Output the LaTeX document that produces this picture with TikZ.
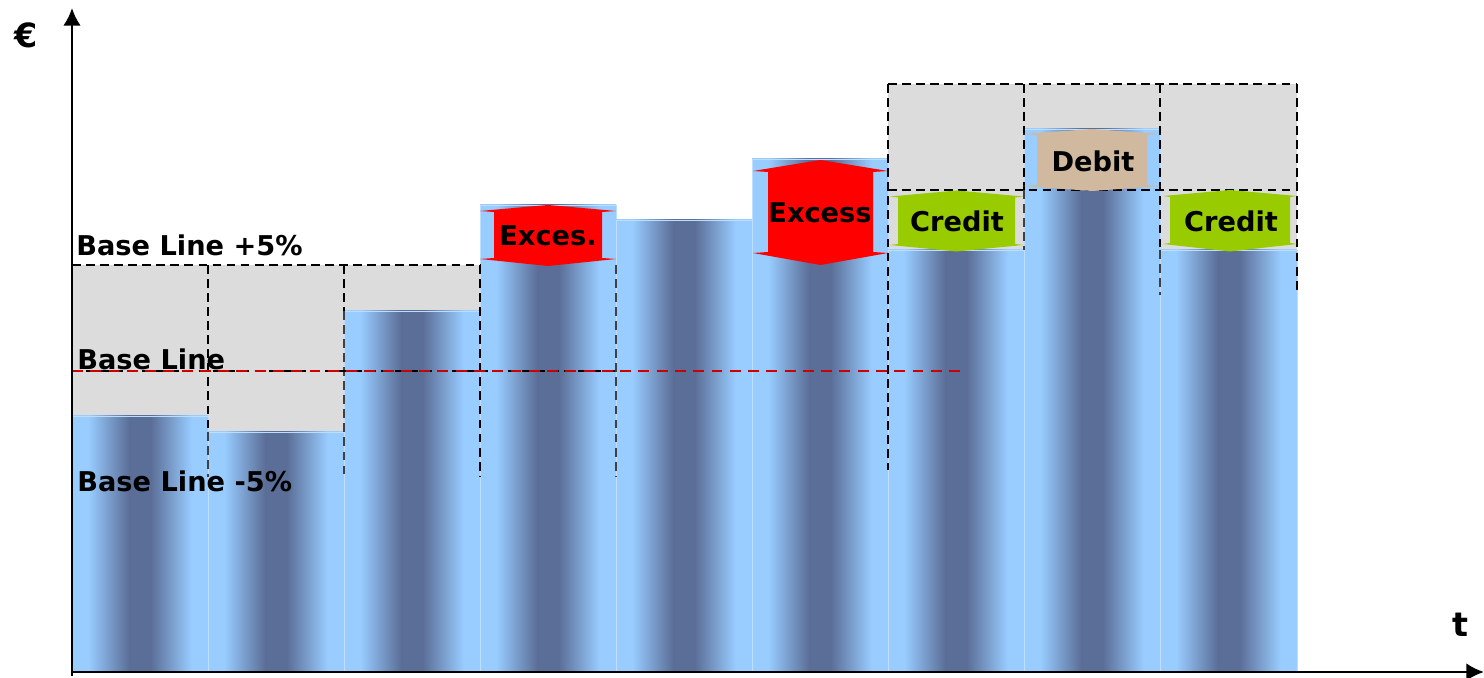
\documentclass[tikz,border=0pt]{standalone}
\usepackage{fontspec}
\setmainfont{DejaVu Sans}
\usetikzlibrary{arrows.meta}
\definecolor{barL}{RGB}{153,204,255}
\definecolor{barD}{RGB}{91,110,152}
\definecolor{barEdge}{RGB}{190,222,255}
\definecolor{grayfill}{RGB}{220,220,220}
\definecolor{excred}{RGB}{255,0,0}
\definecolor{credgreen}{RGB}{153,204,0}
\definecolor{debtan}{RGB}{209,185,160}
\definecolor{baseRed}{RGB}{204,0,0}
\pgfdeclarehorizontalshading{barshade}{100bp}{color(0bp)=(barL); color(25bp)=(barL); color(31bp)=(barL); color(46bp)=(barD); color(54bp)=(barD); color(69bp)=(barL); color(75bp)=(barL); color(100bp)=(barL)}
\newcommand{\blkarrow}[8]{%
  \fill[#1] ({(#2+#3)/2},#4) -- (#3,#5) -- ({#3-#8},{#5+1}) -- ({#3-#8},{#6-1}) -- (#3,#6)
    -- ({(#2+#3)/2},#7) -- (#2,#6) -- ({#2+#8},{#6-1}) -- ({#2+#8},{#5+1}) -- (#2,#5) -- cycle;}
\begin{document}
\begin{tikzpicture}[x=0.02cm,y=-0.02cm,
  barbox/.style={shade, shading=barshade, draw=barEdge, line width=0.4pt},
  gbox/.style={fill=grayfill},
  bdash/.style={draw=black, line width=1.5pt, dash pattern=on 5pt off 3pt},
  tdash/.style={draw=black!75, line width=0.6pt, dash pattern=on 5pt off 3pt},
  rdash/.style={draw=baseRed, line width=1.5pt, dash pattern=on 6.2pt off 4.2pt},
  lbl/.style={font=\fontsize{15.5}{18}\selectfont\bfseries, inner sep=0pt},
  biglbl/.style={font=\fontsize{19}{22}\selectfont\bfseries, inner sep=0pt},
  axisline/.style={line width=1.5pt, -{Latex[length=10pt,width=10pt]}}]
\useasboundingbox (0,0) rectangle (1484,678);
% grey tolerance areas
\fill[gbox] (72,265) rectangle (208,416);
\fill[gbox] (208,265) rectangle (344,432);
\fill[gbox] (344,265) rectangle (480,311);
\fill[gbox] (888,84) rectangle (1024,250);
\fill[gbox] (1024,84) rectangle (1160,129);
\fill[gbox] (1160,84) rectangle (1297,250);
% bars
\path[barbox] (72,416) rectangle (208,672);
\path[barbox] (208,432) rectangle (344,672);
\path[barbox] (344,311) rectangle (480,672);
\path[barbox] (480,205) rectangle (616,672);
\path[barbox] (616,220) rectangle (752,672);
\path[barbox] (752,159) rectangle (888,672);
\path[barbox] (888,250) rectangle (1024,672);
\path[barbox] (1024,129) rectangle (1160,672);
\path[barbox] (1160,250) rectangle (1297,672);
% thin dashed lines over bars
\draw[tdash] (208,432) -- (208,477);
\draw[tdash] (344,311) -- (344,477);
\draw[tdash] (616,265) -- (616,477);
\draw[tdash] (1024,190) -- (1024,250);
\draw[tdash] (1160,250) -- (1160,295);
% thick dashed lines
\draw[bdash] (72,265) -- (480,265);
\draw[bdash] (208,265) -- (208,432);
\draw[bdash] (344,265) -- (344,311);
\draw[bdash] (480,265) -- (480,477);
\draw[bdash] (888,84) -- (1297,84);
\draw[bdash] (888,190) -- (1297,190);
\draw[bdash] (888,84) -- (888,470);
\draw[bdash] (1024,84) -- (1024,190);
\draw[bdash] (1160,84) -- (1160,250);
\draw[bdash] (1297,84) -- (1297,290);
% base line
\draw[bdash] (72,371) -- (616,371);
\draw[rdash] (72,371) -- (960,371);
% block arrows
\blkarrow{excred}{480}{616}{205}{211}{259}{266}{14}
\blkarrow{excred}{753}{888}{160}{171}{253}{265}{15}
\blkarrow{credgreen}{890}{1023}{190.5}{196.5}{245}{251.5}{8}
\blkarrow{debtan}{1023}{1161}{129}{134}{186}{191}{14}
\blkarrow{credgreen}{1163}{1297}{190}{196}{244}{251.5}{7}
% labels
\node[biglbl, anchor=base west] (eur) at (14,48) {€};
\node[biglbl, anchor=base west] (tlab) at (1452,636) {t};
\node[lbl, anchor=base west] (bl5p) at (76,256) {Base Line +5\%};
\node[lbl, anchor=base west] (bl) at (77,370) {Base Line};
\node[lbl, anchor=base west] (bl5m) at (77,492) {Base Line -5\%};
\node[lbl, anchor=base] (lexc1) at (548,246) {Exces.};
\node[lbl, anchor=base] (lexc2) at (820,223) {Excess};
\node[lbl, anchor=base] (lcred1) at (957,232) {Credit};
\node[lbl, anchor=base] (ldeb) at (1093,172) {Debit};
\node[lbl, anchor=base] (lcred2) at (1231,232) {Credit};
% axes
\coordinate (O) at (72,672);
\coordinate (ytop) at (72,8);
\coordinate (xend) at (1484,672);
\coordinate (ybot) at (72,676);
\draw[axisline] (ybot) -- (ytop);
\draw[axisline] (O) -- (xend);
\end{tikzpicture}
\end{document}
